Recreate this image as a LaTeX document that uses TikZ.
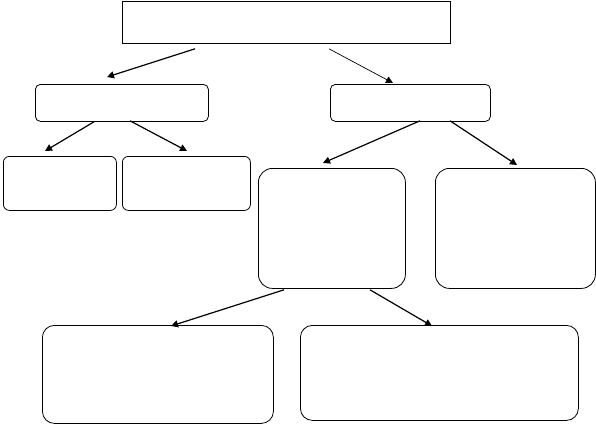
\documentclass[tikz,border=0pt]{standalone}
\usetikzlibrary{arrows.meta,calc}
\begin{document}
\begin{tikzpicture}[x=1pt,y=-1pt,
  box/.style={draw=black,line width=0.8pt,rounded corners=#1,inner sep=0pt,anchor=north west},
  box/.default=6pt,
  conn/.style={line width=1.2pt,-{Triangle[length=7pt,width=7pt]}},
  thinconn/.style={line width=0.7pt,-{Triangle[length=7pt,width=7pt]}}]
\useasboundingbox (0,0) rectangle (596,424);
\node[box=0pt,minimum width=328pt,minimum height=42.5pt] (top) at (122,0.5) {};
\node[box=5pt,minimum width=173pt,minimum height=37pt] (l1) at (35,84) {};
\node[box=5pt,minimum width=160pt,minimum height=37pt] (r1) at (330,84) {};
\node[box=6pt,minimum width=113pt,minimum height=54pt] (ll) at (3,156) {};
\node[box=6pt,minimum width=128pt,minimum height=54pt] (lr) at (122,156) {};
\node[box=14pt,minimum width=147pt,minimum height=120pt] (rl) at (258,168) {};
\node[box=14pt,minimum width=160pt,minimum height=120pt] (rr) at (435,168) {};
\node[box=12pt,minimum width=231pt,minimum height=98pt] (bl) at (42,325) {};
\node[box=12pt,minimum width=278pt,minimum height=95pt] (br) at (300,325) {};
% connectors
\draw[conn] ($(top.south west)+(73,5)$) -- ($(l1.north west)+(72,-7)$);
\draw[thinconn] ($(top.south west)+(207,5)$) -- ($(r1.north west)+(63,-1)$);
\draw[conn] ($(l1.south west)+(59,0)$) -- ($(ll.north west)+(42,-5)$);
\draw[conn] ($(l1.south west)+(95,-1)$) -- ($(lr.north west)+(65,-5)$);
\draw[conn] ($(r1.south west)+(90,-1)$) -- ($(rl.north west)+(65,-5)$);
\draw[conn] ($(r1.south west)+(120,-1)$) -- ($(rr.north west)+(82,-3)$);
\draw[conn] ($(rl.south west)+(26,1)$) -- ($(bl.north west)+(129,1)$);
\draw[conn] ($(rl.south west)+(112,1)$) -- ($(br.north west)+(132,1)$);
\end{tikzpicture}
\end{document}
